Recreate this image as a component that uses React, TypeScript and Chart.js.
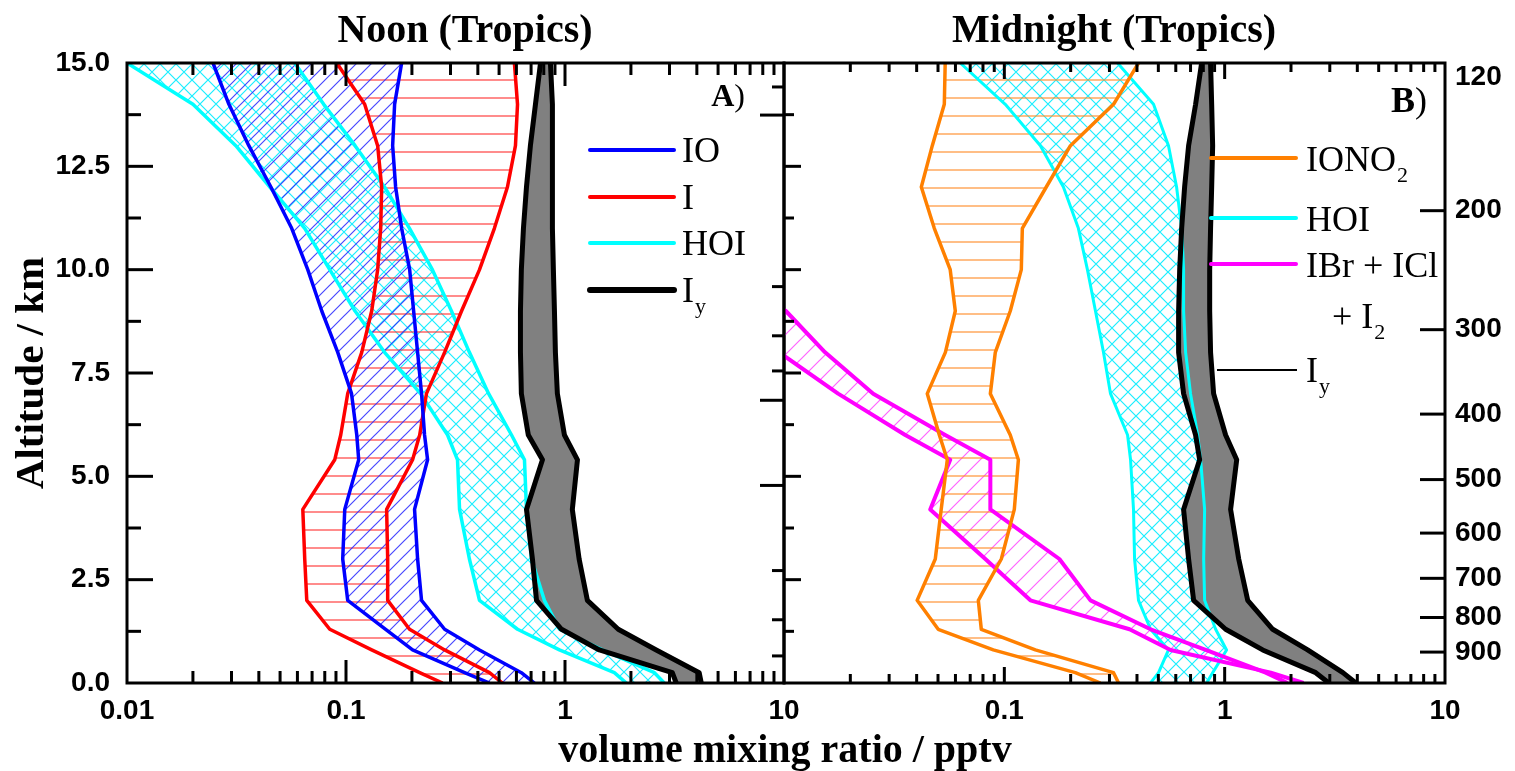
import React, { useEffect, useRef } from 'react';
import { Chart, registerables } from 'chart.js';

Chart.register(...registerables);

const W = 1515;
const H = 771;

// altitude levels (km), ground to top
const ALT_KM = [0, 0.25, 0.8, 1.3, 2.0, 3.0, 4.2, 5.4, 6, 7, 8, 9, 10, 11, 12, 13, 14, 15];

// axis ticks
const X_TICKS = [0.01, 0.1, 1, 10];
const X_TICK_LABELS = ['0.01', '0.1', '1', '10'];
const Y_TICKS = [0, 2.5, 5, 7.5, 10, 12.5, 15];
const PRESSURE_HPA = [120, 200, 300, 400, 500, 600, 700, 800, 900];
const SCALE_HEIGHT_KM = 7.1;
const SURFACE_HPA = 1000;
const MID_TICKS_KM = [14.42, 13.74, 9.59, 8.4, 7.55, 6.84, 4.78, 2.72, 1.53, 0.655];
const MID_TICKS_LONG = [false, true, false, false, false, true, true, false, false, false];

// ---- Panel A: Noon (Tropics) ----
const IY_NOON_LO = [3.22, 3.09, 1.435, 0.964, 0.741, 0.71, 0.667, 0.789, 0.68, 0.632, 0.626, 0.626, 0.632, 0.646, 0.667, 0.695, 0.733, 0.773];
const IY_NOON_HI = [4.19, 4.1, 2.61, 1.75, 1.265, 1.16, 1.08, 1.14, 0.994, 0.923, 0.904, 0.895, 0.885, 0.876, 0.876, 0.876, 0.876, 0.858];
const IO_NOON_LO = [0.452, 0.348, 0.2014, 0.1517, 0.1018, 0.0966, 0.0987, 0.1143, 0.112, 0.106, 0.0917, 0.0775, 0.0669, 0.0565, 0.0454, 0.036, 0.0292, 0.0247];
const IO_NOON_HI = [0.725, 0.632, 0.407, 0.282, 0.2213, 0.2123, 0.2056, 0.2358, 0.2284, 0.2213, 0.2123, 0.2036, 0.1953, 0.1795, 0.1685, 0.1633, 0.1667, 0.1795];
const I_NOON_LO = [0.276, 0.217, 0.131, 0.0843, 0.0662, 0.0648, 0.0635, 0.0888, 0.0946, 0.1018, 0.118, 0.131, 0.1395, 0.144, 0.1455, 0.1395, 0.1217, 0.0907];
const I_NOON_HI = [0.518, 0.452, 0.282, 0.195, 0.155, 0.155, 0.1533, 0.2014, 0.217, 0.233, 0.282, 0.337, 0.407, 0.476, 0.546, 0.594, 0.607, 0.5875];
const HOI_NOON_LO = [1.905, 1.68, 0.943, 0.607, 0.407, 0.366, 0.33, 0.323, 0.291, 0.219, 0.15, 0.11, 0.0843, 0.0648, 0.0449, 0.0314, 0.02, 0.01];
const HOI_NOON_HI = [2.84, 2.56, 1.48, 0.943, 0.805, 0.703, 0.667, 0.653, 0.57, 0.448, 0.366, 0.303, 0.248, 0.195, 0.15, 0.11, 0.0791, 0.0583];

// ---- Panel B: Midnight (Tropics) ----
const IY_NIGHT_LO = [2.97, 2.59, 1.488, 1.01, 0.723, 0.686, 0.651, 0.77, 0.738, 0.651, 0.618, 0.618, 0.625, 0.638, 0.658, 0.686, 0.738, 0.786];
const IY_NIGHT_HI = [3.94, 3.44, 2.38, 1.652, 1.272, 1.158, 1.064, 1.134, 1.01, 0.891, 0.863, 0.855, 0.855, 0.863, 0.873, 0.882, 0.873, 0.863];
const HOI_NIGHT_LO = [0.461, 0.501, 0.556, 0.461, 0.4064, 0.39, 0.3857, 0.374, 0.3625, 0.3033, 0.2818, 0.2592, 0.2383, 0.2168, 0.1854, 0.1458, 0.101, 0.0631];
const HOI_NIGHT_HI = [0.828, 0.882, 1.02, 0.91, 0.811, 0.803, 0.811, 0.778, 0.754, 0.7, 0.665, 0.651, 0.651, 0.638, 0.605, 0.556, 0.4755, 0.3264];
const IONO2_NIGHT_LO = [0.273, 0.21, 0.0891, 0.0501, 0.0402, 0.0486, 0.0517, 0.0551, 0.0507, 0.0447, 0.054, 0.0599, 0.0568, 0.0481, 0.042, 0.0471, 0.0534, 0.0539];
const IONO2_NIGHT_HI = [0.33, 0.313, 0.1383, 0.0786, 0.0762, 0.0969, 0.111, 0.1158, 0.1064, 0.0864, 0.091, 0.1064, 0.1194, 0.1207, 0.155, 0.1995, 0.313, 0.4064];
const IBR_NIGHT_HI = [1.93, 1.535, 0.82, 0.461, 0.246, 0.1778, 0.0864, 0.0864, 0.0539, 0.0254, 0.01536, 0.0102, 0.005, 0.003, 0.002, 0.0015, 0.0012, 0.001];
const IBR_NIGHT_LO = [2.28, 1.62, 0.568, 0.37, 0.1313, 0.082, 0.0461, 0.0568, 0.0355, 0.0176, 0.0095, 0.006, 0.004, 0.003, 0.002, 0.0015, 0.0012, 0.001];

const SANS = '"Liberation Sans", Arial, sans-serif';
const SERIF = '"Liberation Serif", "Times New Roman", serif';
const TICK_FONT = { family: SANS, weight: 'bold' as const, size: 28 };

const BLUE = '#0000ff';
const RED = '#ff0000';
const CYAN = '#00ffff';
const ORANGE = '#ff8000';
const MAGENTA = '#ff00ff';

const pressureAlt = (p: number) => SCALE_HEIGHT_KM * Math.log(SURFACE_HPA / p);

function hatch(kind: 'h' | 'd' | 'x', color: string, size: number, lw: number, off = 0): CanvasPattern {
  const c = document.createElement('canvas');
  c.width = size;
  c.height = size;
  const g = c.getContext('2d')!;
  g.strokeStyle = color;
  g.lineWidth = lw;
  g.beginPath();
  if (kind === 'h') {
    g.moveTo(0, off);
    g.lineTo(size, off);
  } else {
    g.moveTo(0, size);
    g.lineTo(size, 0);
    g.moveTo(-1, 1);
    g.lineTo(1, -1);
    g.moveTo(size - 1, size + 1);
    g.lineTo(size + 1, size - 1);
    if (kind === 'x') {
      g.moveTo(0, 0);
      g.lineTo(size, size);
      g.moveTo(size - 1, -1);
      g.lineTo(size + 1, 1);
      g.moveTo(-1, size - 1);
      g.lineTo(1, size + 1);
    }
  }
  g.stroke();
  return g.createPattern(c, 'repeat')!;
}

function series(vals: number[], color: string, width: number, fill?: CanvasPattern | string) {
  return {
    data: ALT_KM.map((z, i) => ({ x: vals[i], y: z })),
    borderColor: color,
    borderWidth: width,
    pointRadius: 0,
    pointHoverRadius: 0,
    tension: 0,
    borderJoinStyle: 'round' as const,
    fill: fill ? '+1' : false,
    backgroundColor: fill ?? 'rgba(0,0,0,0)',
  };
}

function textWithSub(ctx: CanvasRenderingContext2D, main: string, sub: string, x: number, y: number, size: number) {
  ctx.font = `${size}px ${SERIF}`;
  ctx.fillText(main, x, y);
  if (sub) {
    const w = ctx.measureText(main).width;
    ctx.font = `${Math.round(size * 0.62)}px ${SERIF}`;
    ctx.fillText(sub, x + w + 1, y + 11);
  }
}

function makeDecor(side: 'left' | 'right') {
  return {
    id: 'decor',
    afterDraw(chart: any) {
      const ctx: CanvasRenderingContext2D = chart.ctx;
      const a = chart.chartArea;
      const xs = chart.scales.x;
      const ys = chart.scales.y;
      const xMinor = side === 'left' ? 12 : 9;
      const xMajor = side === 'left' ? 23 : 16;
      const yMinor = side === 'left' ? 14 : 10;
      const yMajor = side === 'left' ? 26 : 17;
      ctx.save();
      ctx.strokeStyle = '#000';
      ctx.fillStyle = '#000';
      ctx.lineCap = 'butt';
      const seg = (x1: number, y1: number, x2: number, y2: number, w = 3) => {
        ctx.lineWidth = w;
        ctx.beginPath();
        ctx.moveTo(x1, y1);
        ctx.lineTo(x2, y2);
        ctx.stroke();
      };
      // log ticks bottom & top
      for (let k = -2; k <= 0; k++) {
        for (let m = 1; m <= 9; m++) {
          const v = m * Math.pow(10, k);
          if (v <= 0.0100001) continue;
          const px = xs.getPixelForValue(v);
          const len = m === 1 ? xMajor : xMinor;
          seg(px, a.bottom, px, a.bottom - len);
          seg(px, a.top, px, a.top + len);
        }
      }
      // left edge altitude ticks
      for (let i = 1; i < 12; i++) {
        const z = i * 1.25;
        const py = ys.getPixelForValue(z);
        seg(a.left, py, a.left + (i % 2 === 0 ? yMajor : yMinor), py);
      }
      // right edge ticks
      if (side === 'left') {
        MID_TICKS_KM.forEach((z, i) => {
          const py = ys.getPixelForValue(z);
          seg(a.right, py, a.right - (MID_TICKS_LONG[i] ? 24 : 12), py);
        });
      } else {
        const ps = chart.scales.yp;
        PRESSURE_HPA.forEach((p) => {
          const z = pressureAlt(p);
          if (z > 14.5) return;
          const py = ps.getPixelForValue(z);
          seg(a.right, py, a.right - 25, py);
        });
      }
      // frame
      ctx.lineWidth = 3;
      ctx.strokeRect(a.left, a.top, a.right - a.left, a.bottom - a.top);

      // titles and labels
      ctx.textBaseline = 'alphabetic';
      ctx.textAlign = 'center';
      ctx.font = `bold 40px ${SERIF}`;
      if (side === 'left') {
        ctx.fillText('Noon (Tropics)', 465, 42);
        ctx.fillText('volume mixing ratio / pptv', 785, 762);
      } else {
        ctx.fillText('Midnight (Tropics)', 1114, 42);
      }
      // panel letter
      ctx.textAlign = 'left';
      const letter = side === 'left' ? 'A' : 'B';
      const lsize = side === 'left' ? 32 : 36;
      const rightEdge = side === 'left' ? 745 : 1427;
      const base = side === 'left' ? 106 : 112;
      ctx.font = `bold ${lsize}px ${SERIF}`;
      const wl = ctx.measureText(letter).width;
      ctx.font = `${lsize}px ${SERIF}`;
      const wp = ctx.measureText(')').width;
      ctx.font = `bold ${lsize}px ${SERIF}`;
      ctx.fillText(letter, rightEdge - wp - wl, base);
      ctx.font = `${lsize}px ${SERIF}`;
      ctx.fillText(')', rightEdge - wp, base);

      // legend
      const legLine = (x1: number, x2: number, y: number, color: string, w: number) => {
        ctx.strokeStyle = color;
        ctx.lineCap = 'round';
        seg(x1, y, x2, y, w);
        ctx.lineCap = 'butt';
      };
      if (side === 'left') {
        const items: [string, string, string, number, number][] = [
          ['IO', '', BLUE, 150, 4],
          ['I', '', RED, 197, 4],
          ['HOI', '', CYAN, 243, 4],
          ['I', 'y', '#000', 290, 6],
        ];
        items.forEach(([t, s, c, y, w]) => {
          legLine(590, 674, y, c, w);
          ctx.fillStyle = '#000';
          textWithSub(ctx, t, s, 682, y + 12, 36);
        });
      } else {
        const items: [string, string, string, number, number][] = [
          ['IONO', '2', ORANGE, 158, 4],
          ['HOI', '', CYAN, 218, 4],
          ['IBr + ICl', '', MAGENTA, 264, 4],
        ];
        items.forEach(([t, s, c, y, w]) => {
          legLine(1211, 1296, y, c, w);
          ctx.fillStyle = '#000';
          textWithSub(ctx, t, s, 1306, y + 13, 36);
        });
        ctx.fillStyle = '#000';
        textWithSub(ctx, '+ I', '2', 1332, 328, 36);
        ctx.strokeStyle = '#000';
        seg(1217, 370, 1297, 370, 2);
        textWithSub(ctx, 'I', 'y', 1306, 382, 36);
      }
      ctx.restore();
    },
  };
}

function xScale(side: 'left' | 'right') {
  return {
    type: 'logarithmic' as const,
    min: 0.01,
    max: 10,
    position: 'bottom' as const,
    grid: { display: false, drawTicks: false },
    border: { display: false },
    afterBuildTicks: (s: any) => {
      s.ticks = X_TICKS.map((v) => ({ value: v }));
    },
    afterFit: (s: any) => {
      s.height = H - 683;
    },
    ticks: {
      autoSkip: false,
      maxRotation: 0,
      padding: 11,
      color: '#000',
      font: TICK_FONT,
      callback: (_v: any, i: number) => (side === 'right' && i === 0 ? '' : X_TICK_LABELS[i]),
    },
  };
}

function baseOptions(padding: any, scales: any) {
  return {
    indexAxis: 'y' as const,
    animation: false as const,
    responsive: false,
    devicePixelRatio: 1,
    layout: { padding },
    events: [] as any[],
    plugins: {
      legend: { display: false },
      tooltip: { enabled: false },
      title: { display: false },
      filler: { propagate: false, drawTime: 'beforeDatasetsDraw' as const },
    },
    scales,
  };
}

export default function App() {
  const leftRef = useRef<HTMLCanvasElement>(null);
  const rightRef = useRef<HTMLCanvasElement>(null);

  useEffect(() => {
    const pBlue = hatch('d', 'rgba(40,40,255,0.85)', 15, 1.2);
    const pRed = hatch('h', 'rgba(255,50,50,0.7)', 18, 1.6, 8);
    const pCyan = hatch('x', 'rgba(0,235,255,0.9)', 16, 1.2);
    const pOrange = hatch('h', 'rgba(255,140,40,0.7)', 18, 1.6, 8);
    const pMagenta = hatch('d', 'rgba(255,60,255,0.8)', 20, 1.2);
    const gray = '#808080';

    const leftChart = new Chart(leftRef.current!, {
      type: 'line',
      data: {
        datasets: [
          series(IY_NOON_LO, '#000', 5, gray),
          series(IY_NOON_HI, '#000', 5),
          series(IO_NOON_LO, BLUE, 3.5, pBlue),
          series(IO_NOON_HI, BLUE, 3.5),
          series(I_NOON_LO, RED, 3.5, pRed),
          series(I_NOON_HI, RED, 3.5),
          series(HOI_NOON_LO, CYAN, 3.5, pCyan),
          series(HOI_NOON_HI, CYAN, 3.5),
        ] as any,
      },
      options: baseOptions(
        { left: 0, right: W - 784, top: 63, bottom: 0 },
        {
          x: xScale('left'),
          y: {
            type: 'linear',
            min: 0,
            max: 15,
            position: 'left',
            grid: { display: false, drawTicks: false },
            border: { display: false },
            afterBuildTicks: (s: any) => {
              s.ticks = Y_TICKS.map((v) => ({ value: v }));
            },
            afterFit: (s: any) => {
              s.width = 127;
            },
            ticks: {
              autoSkip: false,
              padding: 17,
              color: '#000',
              font: TICK_FONT,
              callback: (v: any) => Number(v).toFixed(1),
            },
            title: {
              display: true,
              text: 'Altitude / km',
              color: '#000',
              font: { family: SERIF, weight: 'bold', size: 41 },
              padding: { top: 8, bottom: 0 },
            },
          },
        }
      ) as any,
      plugins: [makeDecor('left')],
    });

    const rightChart = new Chart(rightRef.current!, {
      type: 'line',
      data: {
        datasets: [
          series(IY_NIGHT_LO, '#000', 5, gray),
          series(IY_NIGHT_HI, '#000', 5),
          series(IONO2_NIGHT_LO, ORANGE, 3.5, pOrange),
          series(IONO2_NIGHT_HI, ORANGE, 3.5),
          series(IBR_NIGHT_HI, MAGENTA, 4, pMagenta),
          series(IBR_NIGHT_LO, MAGENTA, 4),
          series(HOI_NIGHT_LO, CYAN, 3, pCyan),
          series(HOI_NIGHT_HI, CYAN, 3),
        ] as any,
      },
      options: baseOptions(
        { left: 784, right: 0, top: 63, bottom: 0 },
        {
          x: xScale('right'),
          y: {
            type: 'linear',
            min: 0,
            max: 15,
            position: 'left',
            display: false,
          },
          yp: {
            axis: 'y',
            type: 'linear',
            min: 0,
            max: 15,
            position: 'right',
            grid: { display: false, drawTicks: false },
            border: { display: false },
            afterBuildTicks: (s: any) => {
              s.ticks = PRESSURE_HPA.map((p) => ({ value: pressureAlt(p) }));
            },
            afterFit: (s: any) => {
              s.width = W - 1445;
            },
            ticks: {
              autoSkip: false,
              padding: 10,
              color: '#000',
              font: TICK_FONT,
              callback: (_v: any, i: number) => (PRESSURE_HPA[i] === 120 ? ['', '120'] : String(PRESSURE_HPA[i])),
            },
          },
        }
      ) as any,
      plugins: [makeDecor('right')],
    });

    return () => {
      leftChart.destroy();
      rightChart.destroy();
    };
  }, []);

  return (
    <div style={{ position: 'absolute', left: 0, top: 0, width: W, height: H, background: '#fff', overflow: 'hidden' }}>
      <canvas ref={leftRef} width={W} height={H} style={{ position: 'absolute', left: 0, top: 0 }} />
      <canvas ref={rightRef} width={W} height={H} style={{ position: 'absolute', left: 0, top: 0 }} />
    </div>
  );
}
